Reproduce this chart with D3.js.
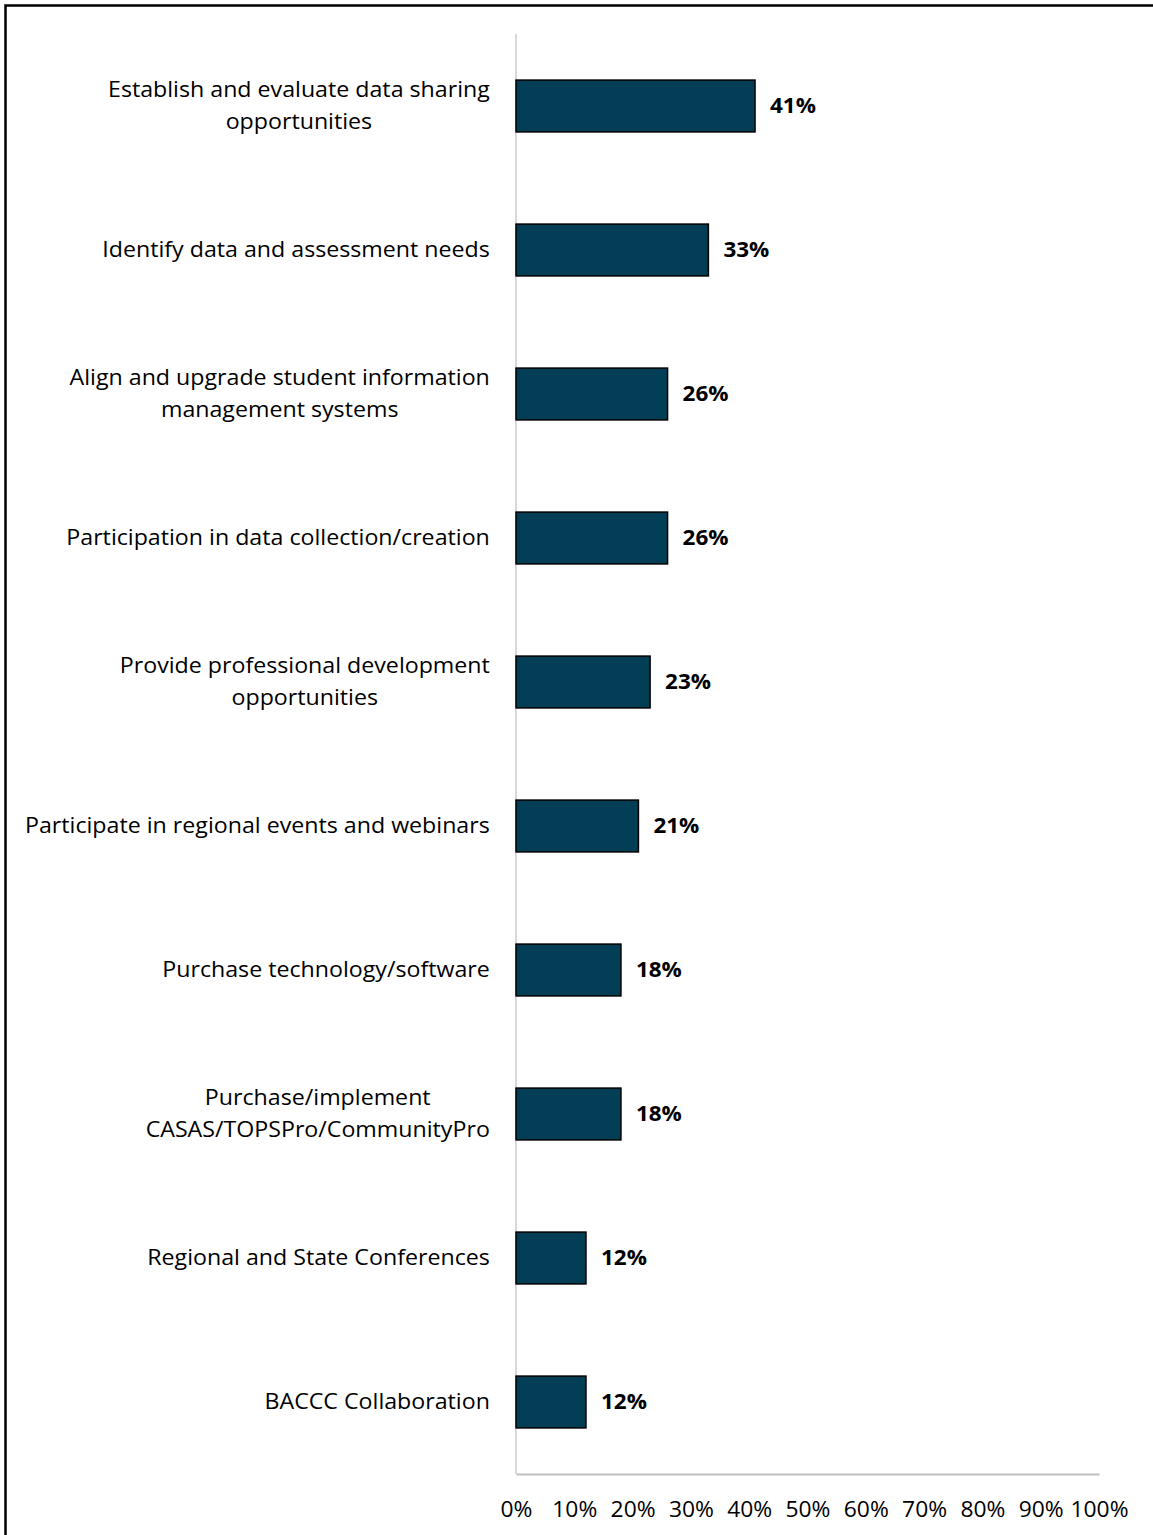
<!DOCTYPE html>
<html>
<head>
<meta charset="utf-8">
<script src="https://cdn.jsdelivr.net/npm/d3@7"></script>
<style>
  html, body { margin: 0; padding: 0; background: #fff; overflow: hidden; }
  svg { display: block; }
</style>
</head>
<body>
<svg id="chart" width="1153" height="1535"></svg>
<script>
// categories (each entry = label lines) and values (%)
const categories = [
  ['Establish and evaluate data sharing', 'opportunities'],
  ['Identify data and assessment needs'],
  ['Align and upgrade student information', 'management systems'],
  ['Participation in data collection/creation'],
  ['Provide professional development', 'opportunities'],
  ['Participate in regional events and webinars'],
  ['Purchase technology/software'],
  ['Purchase/implement', 'CASAS/TOPSPro/CommunityPro'],
  ['Regional and State Conferences'],
  ['BACCC Collaboration']
];
const values = [41, 33, 26, 26, 23, 21, 18, 18, 12, 12];
const xTicks = [0, 10, 20, 30, 40, 50, 60, 70, 80, 90, 100];

const FONT = '"Open Sans", Lato, sans-serif';
// the original picture is a little stretched sideways
const SX = 1.105;
const svg = d3.select('#chart');

// outer frame (only top and left edges fall inside the picture)
svg.append('path')
  .attr('d', 'M5.5,1535 V5.5 H1153')
  .attr('fill', 'none')
  .attr('stroke', '#000')
  .attr('stroke-width', 2.5);

const x = d3.scaleLinear().domain([0, 100]).range([516, 1099]);
const y = d3.scaleBand()
  .domain(d3.range(categories.length))
  .range([34, 1474])
  .paddingInner(0.64)
  .paddingOuter(0.32);

// vertical category axis line
svg.append('line')
  .attr('x1', x(0)).attr('x2', x(0))
  .attr('y1', 34).attr('y2', 1474)
  .attr('stroke', '#d9d9d9')
  .attr('stroke-width', 2);

// x axis
const xAxis = svg.append('g')
  .attr('transform', 'translate(0,1474)')
  .call(d3.axisBottom(x).tickValues(xTicks).tickSize(0).tickPadding(28).tickFormat(d => d + '%'));
xAxis.select('.domain').attr('stroke', '#bfbfbf').attr('stroke-width', 2);
xAxis.selectAll('.tick text')
  .attr('font-family', FONT)
  .attr('font-size', 21)
  .attr('fill', '#000')
  .attr('transform', `scale(${SX * 0.985},1)`)
  .attr('x', 0);

// bars
svg.append('g').selectAll('rect')
  .data(values)
  .join('rect')
  .attr('x', x(0))
  .attr('y', (d, i) => y(i))
  .attr('width', d => x(d) - x(0))
  .attr('height', y.bandwidth())
  .attr('fill', '#023e56')
  .attr('stroke', '#000')
  .attr('stroke-width', 1.5);

// value labels
svg.append('g').selectAll('text')
  .data(values)
  .join('text')
  .attr('transform', (d, i) => `translate(${x(d) + 15},${y(i) + y.bandwidth() / 2}) scale(1.07,1)`)
  .attr('dy', '0.35em')
  .attr('font-family', FONT)
  .attr('font-size', 21)
  .attr('font-weight', 'bold')
  .text(d => d + '%');

// category labels: block right-aligned, lines centred within the block
const lineH = 32;
const labels = svg.append('g');
categories.forEach((lines, i) => {
  const cy = y(i) + y.bandwidth() / 2;
  const g = labels.append('g');
  const texts = lines.map((t, k) => g.append('text')
    .attr('y', (k - (lines.length - 1) / 2) * lineH)
    .attr('dy', '0.35em')
    .attr('font-family', FONT)
    .attr('font-size', 21)
    .attr('fill', '#000')
    .attr('text-anchor', 'middle')
    .text(t));
  const maxW = d3.max(texts, t => t.node().getComputedTextLength()) * SX;
  g.attr('transform', `translate(${490 - maxW / 2},${cy}) scale(${SX},1)`);
});
</script>
</body>
</html>
